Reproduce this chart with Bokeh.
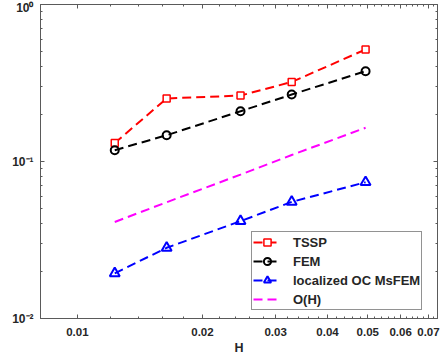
from bokeh.plotting import figure
from bokeh.models import (LogAxis, FixedTicker, Range1d, Legend, LegendItem,
                          CustomLabelingPolicy)
from bokeh.embed import file_html
from bokeh.resources import INLINE

# ---- data ----
H = [0.0123, 0.0164, 0.0247, 0.0328, 0.0494]
tssp = [0.131, 0.252, 0.263, 0.321, 0.517]
fem = [0.118, 0.147, 0.209, 0.267, 0.376]
msfem = [0.0194, 0.0282, 0.0417, 0.0553, 0.0738]
oh = [0.0412, 0.0550, 0.0825, 0.110, 0.164]

x_ticks = [0.01, 0.02, 0.03, 0.04, 0.05, 0.06, 0.07]
x_tick_labels = ["0.01", "0.02", "0.03", "0.04", "0.05", "0.06", "0.07"]
x_minor = [0.012, 0.014, 0.016, 0.018, 0.022, 0.024, 0.026, 0.028,
           0.032, 0.034, 0.036, 0.038, 0.042, 0.044, 0.046, 0.048,
           0.052, 0.054, 0.056, 0.058, 0.062, 0.064, 0.066, 0.068, 0.072]
y_ticks = [0.01, 0.1, 1.0]
y_tick_labels = ["10\u207b\u00b2", "10\u207b\u00b9", "10\u2070"]
y_minor = [0.02, 0.03, 0.04, 0.05, 0.06, 0.07, 0.08, 0.09,
           0.2, 0.3, 0.4, 0.5, 0.6, 0.7, 0.8, 0.9]

FONT = "Liberation Sans"
AX = "#5a5a5a"
TXT = "#262626"

p = figure(frame_width=397, frame_height=314,
           x_axis_type="log", y_axis_type="log",
           x_range=Range1d(0.00815, 0.0736), y_range=Range1d(0.01, 1.0),
           output_backend="svg", toolbar_location=None,
           min_border_left=32, min_border_right=0, min_border_top=0,
           min_border_bottom=0)
p.margin = (0, 0, 0, 8)
p.grid.visible = False
p.outline_line_color = AX
p.background_fill_color = "white"
p.border_fill_color = "white"

xt = FixedTicker(ticks=x_ticks, minor_ticks=x_minor)
yt = FixedTicker(ticks=y_ticks, minor_ticks=y_minor)


def style(ax):
    ax.axis_line_color = AX
    ax.major_tick_line_color = AX
    ax.minor_tick_line_color = AX
    ax.major_tick_in = 4
    ax.major_tick_out = 0
    ax.minor_tick_in = 2
    ax.minor_tick_out = 0
    ax.major_label_text_font = FONT
    ax.major_label_text_font_style = "bold"
    ax.major_label_text_color = TXT


xa = p.xaxis[0]
xa.ticker = xt
xa.major_label_overrides = {t: l for t, l in zip(x_ticks, x_tick_labels)}
style(xa)
xa.major_label_text_font_size = "11.5px"
xa.major_label_standoff = 9
xa.axis_label = "H"
xa.axis_label_text_font = FONT
xa.axis_label_text_font_style = "bold"
xa.axis_label_text_font_size = "12.5px"
xa.axis_label_text_color = TXT
xa.axis_label_standoff = 2

ya = p.yaxis[0]
ya.ticker = yt
ya.major_label_overrides = {t: l for t, l in zip(y_ticks, y_tick_labels)}
style(ya)
ya.major_label_text_font_size = "12px"
ya.major_label_standoff = 7

no_labels = CustomLabelingPolicy(code="return new Set()")
for loc, tk in (("above", FixedTicker(ticks=x_ticks, minor_ticks=x_minor)),
                ("right", FixedTicker(ticks=y_ticks, minor_ticks=y_minor))):
    ax = LogAxis(ticker=tk)
    style(ax)
    ax.major_label_text_font_size = "1px"
    ax.major_label_standoff = 0
    ax.major_label_policy = no_labels
    p.add_layout(ax, loc)

DASH = "9 5"
r1 = p.line(H, tssp, line_color="#ff0000", line_width=2, line_dash=DASH)
m1 = p.scatter(H, tssp, marker="square", size=7, fill_color="white",
               line_color="#ff0000", line_width=1.5)
r2 = p.line(H, fem, line_color="black", line_width=2, line_dash=DASH)
m2 = p.scatter(H, fem, marker="circle", size=8, fill_color=None,
               line_color="black", line_width=2)
r3 = p.line(H, msfem, line_color="#0000ff", line_width=2, line_dash=DASH)
m3 = p.scatter(H, msfem, marker="triangle", size=10, fill_color=None,
               line_color="#0000ff", line_width=2)
r4 = p.line(H, oh, line_color="#ff00ff", line_width=2, line_dash=DASH)

legend = Legend(items=[
    LegendItem(label="TSSP", renderers=[r1, m1]),
    LegendItem(label="FEM", renderers=[r2, m2]),
    LegendItem(label="localized OC MsFEM", renderers=[r3, m3]),
    LegendItem(label="O(H)", renderers=[r4]),
], location=(211, 8))
legend.margin = 0
legend.padding = 1
legend.spacing = 1
legend.label_height = 18
legend.glyph_height = 18
legend.glyph_width = 28
legend.label_standoff = 12
legend.label_text_font = FONT
legend.label_text_font_style = "bold"
legend.label_text_font_size = "13px"
legend.label_text_color = TXT
legend.border_line_color = TXT
legend.border_line_width = 1
legend.background_fill_color = "white"
legend.background_fill_alpha = 1.0
p.add_layout(legend, "center")

open("out.html", "w").write(file_html(p, INLINE))
